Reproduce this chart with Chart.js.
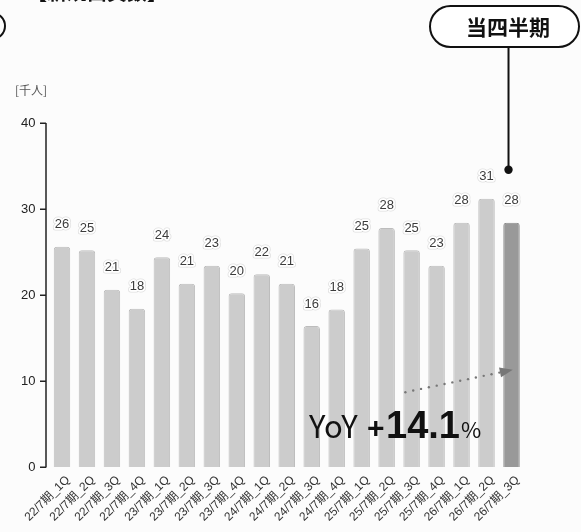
<!DOCTYPE html>
<html lang="ja">
<head>
<meta charset="utf-8">
<script src="https://cdn.jsdelivr.net/npm/chart.js@4"></script>
<style>
  html, body { margin: 0; padding: 0; background: #fcfcfc; }
  #wrap { position: relative; width: 581px; height: 532px; }
  canvas { display: block; }
</style>
</head>
<body>
<div id="wrap"><canvas id="c" width="581" height="532"></canvas></div>
<script>
// 四半期ごとの新規出資数（千人）
const quarters = [
  '22/7期_1Q', '22/7期_2Q', '22/7期_3Q', '22/7期_4Q',
  '23/7期_1Q', '23/7期_2Q', '23/7期_3Q', '23/7期_4Q',
  '24/7期_1Q', '24/7期_2Q', '24/7期_3Q', '24/7期_4Q',
  '25/7期_1Q', '25/7期_2Q', '25/7期_3Q', '25/7期_4Q',
  '26/7期_1Q', '26/7期_2Q', '26/7期_3Q'
];
const investors = [
  25.6, 25.2, 20.6, 18.4,
  24.4, 21.3, 23.4, 20.2,
  22.4, 21.3, 16.4, 18.3,
  25.4, 27.8, 25.2, 23.4,
  28.4, 31.2, 28.4
];
const yTicks = [0, 10, 20, 30, 40];
const unitLabel = '[千人]';
const titleText = '【新規出資数】';
const currentLabel = '当四半期';
const yoyPercent = '14.1';

const JP = '"Noto Sans CJK JP", "Liberation Sans", sans-serif';
const SANS = '"Liberation Sans", "Noto Sans CJK JP", sans-serif';

const lastIdx = investors.length - 1;
const barFill = investors.map((v, i) => i === lastIdx ? '#999999' : '#cccccc');
const barEdge = investors.map((v, i) => i === lastIdx ? '#8c8c8c' : '#bdbdbd');

// 値ラベル（白い縁取り付き）
const valueLabels = {
  id: 'valueLabels',
  afterDatasetsDraw(chart) {
    const ctx = chart.ctx;
    const meta = chart.getDatasetMeta(0);
    ctx.save();
    ctx.font = '13px ' + SANS;
    ctx.textAlign = 'center';
    ctx.textBaseline = 'middle';
    meta.data.forEach((bar, i) => {
      const txt = String(Math.round(investors[i]));
      const x = bar.x, y = bar.y - 22;
      ctx.lineJoin = 'round';
      ctx.strokeStyle = 'rgba(0,0,0,0.12)';
      ctx.lineWidth = 5;
      ctx.strokeText(txt, x, y);
      ctx.strokeStyle = '#ffffff';
      ctx.lineWidth = 3.5;
      ctx.strokeText(txt, x, y);
      ctx.fillStyle = '#3c3c3c';
      ctx.fillText(txt, x, y);
    });
    ctx.restore();
  }
};

// 縦軸の線と目盛り、単位、見出し、注記
const overlay = {
  id: 'overlay',
  afterDraw(chart) {
    const ctx = chart.ctx;
    const ys = chart.scales.y, xs = chart.scales.x;
    const axisX = chart.chartArea.left - 3.5;
    ctx.save();

    // 縦軸
    ctx.strokeStyle = '#222';
    ctx.lineWidth = 1.5;
    ctx.beginPath();
    ctx.moveTo(axisX, ys.getPixelForValue(40));
    ctx.lineTo(axisX, ys.getPixelForValue(0) + 0.5);
    ctx.stroke();
    yTicks.forEach(v => {
      const py = Math.round(ys.getPixelForValue(v)) + 0.25;
      ctx.beginPath();
      ctx.moveTo(axisX - 6, py);
      ctx.lineTo(axisX, py);
      ctx.stroke();
    });

    // 単位
    ctx.font = '12px ' + JP;
    ctx.fillStyle = '#555';
    ctx.textAlign = 'left';
    ctx.textBaseline = 'middle';
    ctx.fillText(unitLabel, 15, 90);

    // 見出し（上端）
    ctx.font = 'bold 20px ' + JP;
    ctx.fillStyle = '#111';
    ctx.textBaseline = 'alphabetic';
    ctx.fillText(titleText, 27, 0);

    // 左上の枠の端
    ctx.strokeStyle = '#111';
    ctx.lineWidth = 2;
    ctx.beginPath();
    ctx.roundRect(-160, 13, 165, 26, 13);
    ctx.stroke();

    // 当四半期の吹き出し
    const bx = xs.getPixelForValue(lastIdx) - 3;
    ctx.fillStyle = '#ffffff';
    ctx.beginPath();
    ctx.roundRect(430, 6, 149, 41, 20.5);
    ctx.fill();
    ctx.stroke();
    ctx.font = 'bold 21px ' + JP;
    ctx.fillStyle = '#111';
    ctx.textAlign = 'center';
    ctx.textBaseline = 'middle';
    ctx.fillText(currentLabel, 508, 27);

    const dotY = ys.getPixelForValue(investors[lastIdx - 1]) - 29;
    ctx.lineWidth = 2;
    ctx.beginPath();
    ctx.moveTo(bx, 47);
    ctx.lineTo(bx, dotY);
    ctx.stroke();
    ctx.fillStyle = '#111';
    ctx.beginPath();
    ctx.arc(bx, dotY, 4.2, 0, Math.PI * 2);
    ctx.fill();

    // 前年同期比の矢印
    const x0 = xs.getPixelForValue(13.75), y0 = ys.getPixelForValue(8.7);
    const x1 = xs.getPixelForValue(18.05), y1 = ys.getPixelForValue(11.3);
    const ang = Math.atan2(y1 - y0, x1 - x0);
    const len = Math.hypot(x1 - x0, y1 - y0) - 12;
    ctx.fillStyle = '#777';
    for (let d = 0; d <= len; d += 8) {
      ctx.beginPath();
      ctx.arc(x0 + Math.cos(ang) * d, y0 + Math.sin(ang) * d, 1.2, 0, Math.PI * 2);
      ctx.fill();
    }
    ctx.save();
    ctx.translate(x1, y1);
    ctx.rotate(ang);
    ctx.beginPath();
    ctx.moveTo(0, 0);
    ctx.lineTo(-13, -5);
    ctx.lineTo(-13, 5);
    ctx.closePath();
    ctx.fill();
    ctx.restore();

    // YoY テキスト
    ctx.textAlign = 'left';
    ctx.textBaseline = 'alphabetic';
    ctx.fillStyle = '#111';
    const base = 438;
    ctx.font = '31px ' + JP;
    ctx.fillText('YoY', 309, base);
    ctx.font = 'bold 30px ' + SANS;
    ctx.fillText('+', 367, base);
    ctx.font = 'bold 38px ' + SANS;
    ctx.fillText(yoyPercent, 386, base);
    const w = ctx.measureText(yoyPercent).width;
    ctx.font = '22px ' + JP;
    ctx.fillText('%', 386 + w + 1, base);
    ctx.restore();
  }
};

new Chart(document.getElementById('c'), {
  type: 'bar',
  data: {
    labels: quarters,
    datasets: [{
      data: investors,
      backgroundColor: barFill,
      borderColor: barEdge,
      borderWidth: 1,
      borderRadius: { topLeft: 3, topRight: 3 },
      borderSkipped: 'bottom',
      barPercentage: 0.66,
      categoryPercentage: 1
    }]
  },
  options: {
    responsive: false,
    animation: false,
    devicePixelRatio: 1,
    layout: { padding: { top: 123, right: 57, left: 0, bottom: 0 } },
    plugins: { legend: { display: false }, tooltip: { enabled: false } },
    scales: {
      x: {
        grid: { display: false, drawTicks: false },
        border: { display: false },
        afterFit(s) { s.height = 65; },
        ticks: {
          autoSkip: false,
          minRotation: 45,
          maxRotation: 45,
          padding: 6,
          labelOffset: 6,
          color: '#333',
          font: { size: 12, family: SANS }
        }
      },
      y: {
        min: 0,
        max: 40,
        grid: { display: false, drawTicks: false },
        border: { display: false },
        afterFit(s) { s.width = 49.5; },
        afterBuildTicks(s) { s.ticks = yTicks.map(v => ({ value: v })); },
        ticks: {
          padding: 14,
          color: '#222',
          font: { size: 13, family: SANS }
        }
      }
    }
  },
  plugins: [valueLabels, overlay]
});
</script>
</body>
</html>
